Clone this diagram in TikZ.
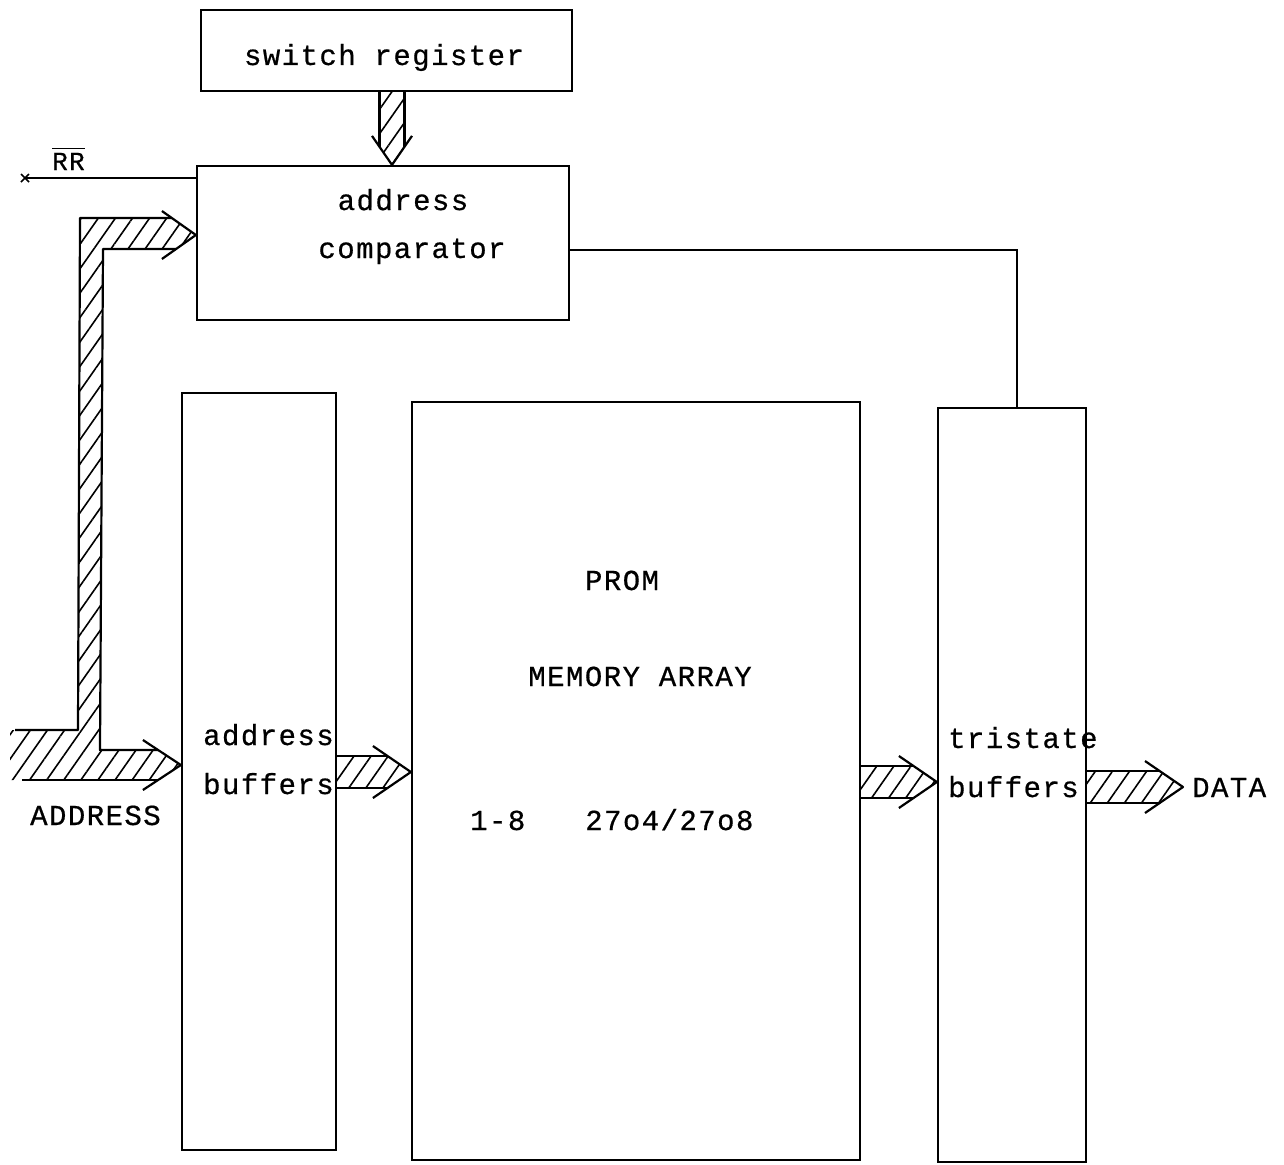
\documentclass[tikz,border=0pt]{standalone}
\usepackage{fontspec}
\usetikzlibrary{calc,patterns.meta}
\newfontfamily\tw[LetterSpace=5,FakeBold=0.6]{Liberation Mono}
\tikzset{
  blk/.style={draw, line width=2.2pt, inner sep=0pt},
  lbl/.style={inner sep=0pt, font=\tw\fontsize{29}{31}\selectfont},
  bus/.style={line width=2.2pt, line join=round},
  hatch/.style={pattern={Lines[angle=55,distance=14pt,line width=1.6pt]}},
  wire/.style={line width=2.2pt}
}
\newcommand\hbus[2]{%
  \fill[hatch] ($(#1)+(0,-16)$) -- ($(#2)+(-24,-16)$) -- (#2) -- ($(#2)+(-24,16)$) -- ($(#1)+(0,16)$) -- cycle;
  \draw[bus] ($(#1)+(0,-16)$) -- ($(#2)+(-24,-16)$) ($(#1)+(0,16)$) -- ($(#2)+(-24,16)$);
  \draw[bus] ($(#2)+(-38,-26)$) -- (#2) -- ($(#2)+(-38,26)$);
}
\newcommand\vbus[2]{%
  \fill[hatch] ($(#1)+(-12.5,0)$) -- ($(#2)+(-12.5,-18)$) -- (#2) -- ($(#2)+(12.5,-18)$) -- ($(#1)+(12.5,0)$) -- cycle;
  \draw[bus] ($(#1)+(-12.5,0)$) -- ($(#2)+(-12.5,-18)$) ($(#1)+(12.5,0)$) -- ($(#2)+(12.5,-18)$);
  \draw[bus] ($(#2)+(-20,-29)$) -- (#2) -- ($(#2)+(20,-29)$);
}
\begin{document}
\begin{tikzpicture}[x=1pt,y=-1pt]
\useasboundingbox[fill=white] (0,0) rectangle (1284,1164);
% boxes
\node[blk, minimum width=371pt, minimum height=81pt] (sw) at (386.5,50.5) {};
\node[blk, minimum width=372pt, minimum height=154pt] (ac) at (383,243) {};
\node[blk, minimum width=154pt, minimum height=757pt] (ab) at (259,771.5) {};
\node[blk, minimum width=448pt, minimum height=758pt] (prom) at (636,781) {};
\node[blk, minimum width=148pt, minimum height=754pt] (tb) at (1012,785) {};
% texts
\node[lbl, anchor=base] (t1) at (384,65) {switch register};
\node[lbl, anchor=base] (t2) at (403,210) {address};
\node[lbl, anchor=base] (t3) at (412,258) {comparator};
\node[lbl, anchor=base west] (t4) at (203,745) {address};
\node[lbl, anchor=base west] (t5) at (203,794) {buffers};
\node[lbl, anchor=base] (t6) at (622,590) {PROM};
\node[lbl, anchor=base] (t7) at (640,686) {MEMORY ARRAY};
\node[lbl, anchor=base west] (t8) at (470,830) {1-8};
\node[lbl, anchor=base west] (t9) at (585,830) {27o4/27o8};
\node[lbl, anchor=base west] (t10) at (948,748) {tristate};
\node[lbl, anchor=base west] (t11) at (948,797) {buffers};
\node[lbl, anchor=base west] (data) at (1192,797) {DATA};
\node[lbl, anchor=base west] (addr) at (30,825) {ADDRESS};
\node[lbl, anchor=base west, font=\tw\fontsize{26}{28}\selectfont] (rr) at (52,170) {RR};
\draw[line width=1.6pt] ($(rr.north west)+(0,-4)$) -- ($(rr.north east)+(0,-4)$);
% RR wire
\coordinate (rrend) at (25,178);
\draw[wire] (rrend) -- (ac.west |- rrend);
\draw[line width=1.6pt] ($(rrend)+(-4,-4)$) -- ($(rrend)+(4,4)$) ($(rrend)+(-4,4)$) -- ($(rrend)+(4,-4)$);
% comparator output to tristate buffers
\coordinate (cmpout) at (ac.east |- 0,250);
\coordinate (bend) at (1017,250);
\draw[wire] (cmpout) -- (bend) -- (tb.north -| bend);
% switch register bus
\coordinate (s0) at (sw.south -| 392,0);
\coordinate (s1) at (ac.north -| 392,0);
\vbus{s0}{s1}
% address bus
\coordinate (tip1) at (ac.west |- 0,235);
\coordinate (tip2) at (ab.west |- 0,765);
\fill[hatch] (10,730) -- (78,730) -- (80,218) -- ($(tip1)+(-24,-17)$) -- (tip1) -- ($(tip1)+(-20,14)$) -- (103,249) -- (100,750) -- ($(tip2)+(-23,-15)$) -- (tip2) -- ($(tip2)+(-23,15)$) -- (10,780) -- cycle;
\draw[bus] (15,730) -- (78,730) -- (80,218) -- ($(tip1)+(-24,-17)$);
\draw[bus] ($(tip1)+(-20,14)$) -- (103,249) -- (100,750) -- ($(tip2)+(-23,-15)$);
\draw[bus] (22,780) -- ($(tip2)+(-23,15)$);
\draw[bus] ($(tip1)+(-34,-24)$) -- (tip1) -- ($(tip1)+(-34,24)$);
\draw[bus] ($(tip2)+(-38,-25)$) -- (tip2) -- ($(tip2)+(-38,25)$);
% block to block buses
\coordinate (a0) at (ab.east |- 0,772);
\coordinate (a1) at (prom.west |- 0,772);
\hbus{a0}{a1}
\coordinate (b0) at (prom.east |- 0,782);
\coordinate (b1) at (tb.west |- 0,782);
\hbus{b0}{b1}
\coordinate (c0) at (tb.east |- 0,787);
\coordinate (c1) at (1183,787);
\hbus{c0}{c1}
\end{tikzpicture}
\end{document}
